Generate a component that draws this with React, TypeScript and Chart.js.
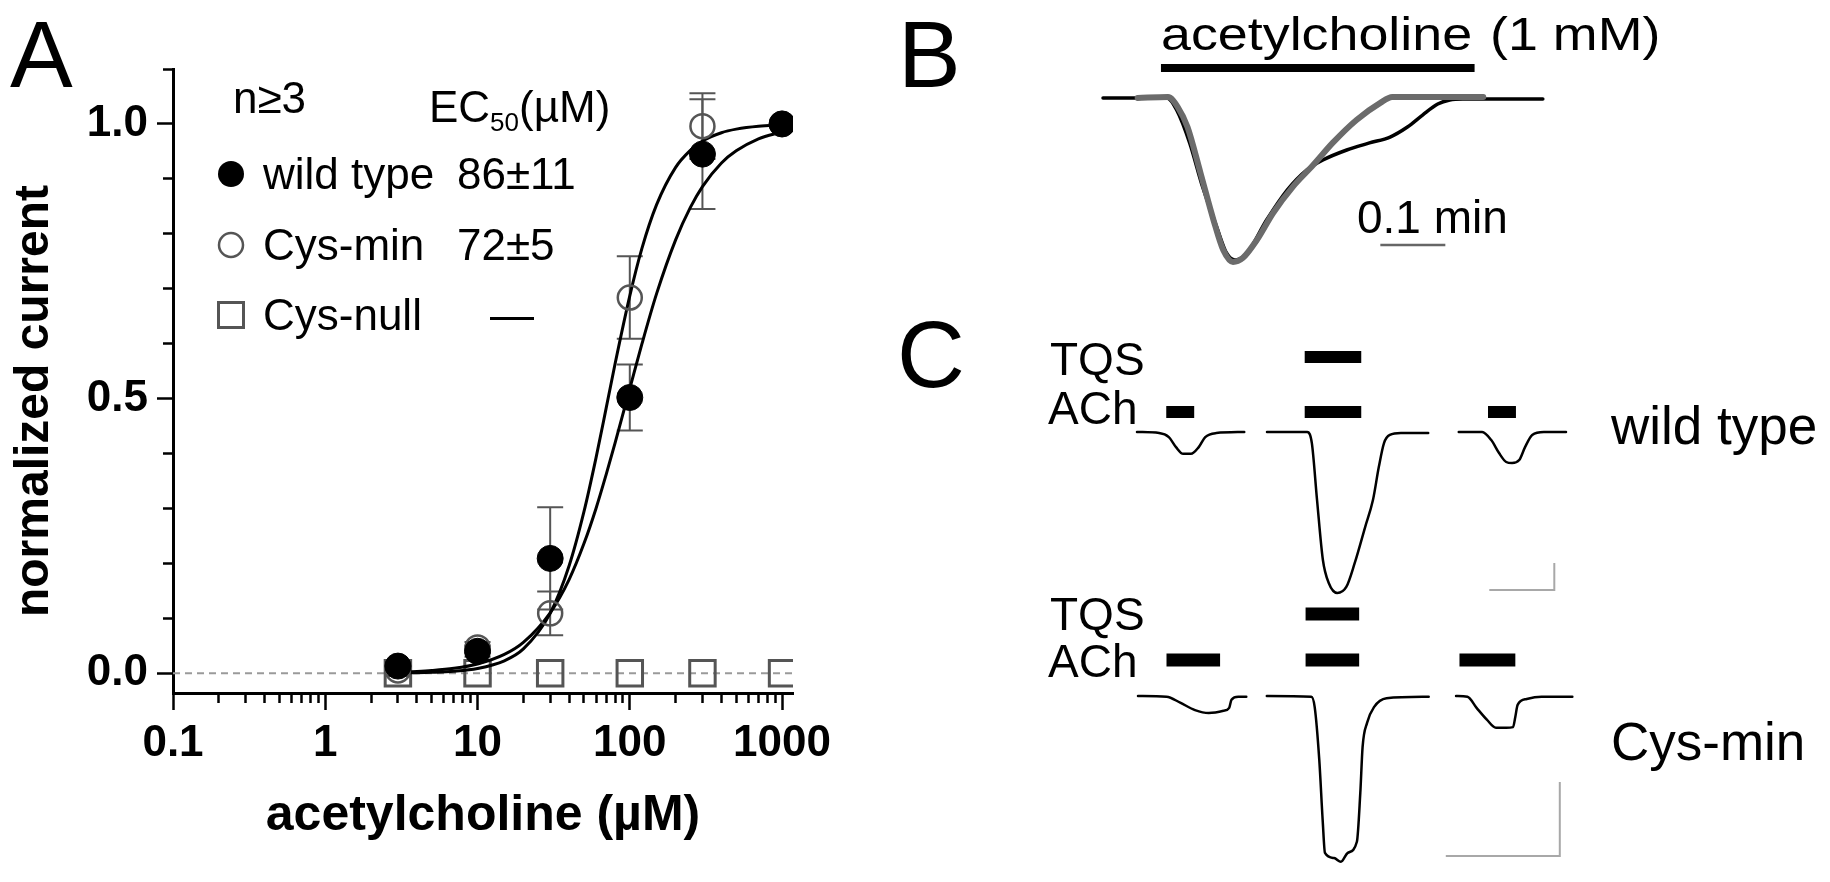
import React, { useEffect, useRef } from "react";
import { Chart, registerables } from "chart.js";
Chart.register(...registerables);

const FONT = '"Liberation Sans", Arial, Helvetica, sans-serif';

// ---------------- Panel A: concentration-response ----------------
const concentrations = [3, 10, 30, 100, 300, 1000];
const wildTypeMean = [0.013, 0.04, 0.209, 0.502, 0.945, 1.0];
const wildTypeSem = [0.01, 0.01, 0.093, 0.06, 0.1, 0.0];
const cysMinMean = [0.005, 0.047, 0.109, 0.684, 0.996, 1.0];
const cysMinSem = [0.01, 0.01, 0.04, 0.075, 0.06, 0.0];
const cysNullMean = [0, 0, 0, 0, 0, 0];
const fitConc = [3, 4, 5, 7, 10, 15, 20, 30, 40, 50, 60, 70, 80, 100, 120, 150, 200, 250, 300, 400, 500, 700, 1000];
const wildTypeFit = [0.002, 0.0033, 0.0049, 0.0089, 0.0168, 0.0342, 0.0561, 0.11, 0.171, 0.236, 0.3, 0.362, 0.419, 0.518, 0.599, 0.691, 0.789, 0.848, 0.886, 0.929, 0.951, 0.973, 0.9855];
const cysMinFit = [0.0005, 0.001, 0.0017, 0.0037, 0.0087, 0.0226, 0.0442, 0.109, 0.196, 0.294, 0.392, 0.483, 0.563, 0.687, 0.773, 0.853, 0.921, 0.952, 0.969, 0.984, 0.9905, 0.9958, 0.998];
const zeroLineConc = [0.1, 1180];
const zeroLineValue = [0, 0];
const xTickValues = [0.1, 0.2, 0.3, 0.4, 0.5, 0.6, 0.7, 0.8, 0.9, 1, 2, 3, 4, 5, 6, 7, 8, 9, 10, 20, 30, 40, 50, 60, 70, 80, 90, 100, 200, 300, 400, 500, 600, 700, 800, 900, 1000];
const xMajorTicks = [0.1, 1, 10, 100, 1000];
const xTickLabels = ["0.1", "1", "10", "100", "1000"];
const yTickValues = [0, 0.1, 0.2, 0.3, 0.4, 0.5, 0.6, 0.7, 0.8, 0.9, 1.0, 1.1];
const yMajorTicks = [0, 0.5, 1.0];
const yTickLabels = ["0.0", "0.5", "1.0"];
const legendNames = ["wild type", "Cys-min", "Cys-null"];
const legendEC50 = ["86±11", "72±5", "—"];

// ---------------- Panel B: ACh 1 mM traces (s, normalized) ----------------
const bTimeWildType = [0, 5.9, 6.8, 8.0, 9.2, 10.5, 11.4, 12.2, 13.3, 15.1, 17.0, 18.8, 20.3, 22.5, 24.6, 26.5, 28.1, 29.5, 30.9, 32.0, 33.2, 40.6];
const bCurrentWildType = [0, 0, -0.073, -0.274, -0.543, -0.787, -0.945, -0.988, -0.945, -0.744, -0.561, -0.439, -0.378, -0.317, -0.274, -0.238, -0.177, -0.104, -0.037, -0.012, -0.006, -0.006];
const bTimeCysMin = [3.2, 6.0, 6.9, 7.8, 9.0, 10.2, 11.1, 12.0, 12.9, 14.2, 15.7, 17.5, 19.4, 21.2, 23.4, 25.6, 26.7, 28.6, 31.8, 35.1];
const bCurrentCysMin = [0, 0.006, -0.055, -0.177, -0.457, -0.744, -0.927, -1.0, -0.976, -0.866, -0.701, -0.543, -0.409, -0.274, -0.134, -0.03, 0.006, 0.006, 0.006, 0.006];
const bAchApplication = [5.35, 34.3];
const bScaleBarTime = [25.6, 31.6]; // 0.1 min

// ---------------- Panel C: TQS potentiation (s, µA) ----------------
const cWtTime1 = [0, 3.4, 4.9, 6.0, 7.1, 8.3, 9.5, 10.5, 12.2, 16.5];
const cWtCur1 = [0, -0.04, -0.19, -0.56, -0.81, -0.81, -0.56, -0.19, -0.04, 0];
const cWtTime2 = [20.0, 26.2, 26.9, 27.7, 28.6, 29.5, 30.8, 32.2, 33.5, 35.1, 36.3, 37.2, 38.0, 38.9, 40.6, 44.8];
const cWtCur2 = [0, 0, -0.41, -2.52, -4.74, -5.59, -5.96, -5.74, -4.85, -3.52, -2.52, -1.3, -0.41, -0.11, -0.04, -0.04];
const cWtTime3 = [49.5, 53.1, 54.5, 55.7, 56.8, 57.7, 58.8, 59.7, 60.8, 62.6, 66.0];
const cWtCur3 = [0, 0, -0.3, -0.78, -1.11, -1.15, -1.04, -0.56, -0.11, 0, 0];
const cWtAch = [[4.5, 8.8], [25.8, 34.5], [54.0, 58.3]];
const cWtTqs = [[25.8, 34.5]];
const cWtScaleTime = [54.2, 64.2];
const cWtScaleCurrent = [-5.85, -4.85];

const cCysTime1 = [0, 2.5, 3.7, 5.0, 6.2, 7.5, 8.0, 8.2, 8.8, 9.5];
const cCysCur1 = [0, -0.01, -0.09, -0.19, -0.23, -0.2, -0.16, -0.05, -0.01, -0.01];
const cCysTime2 = [11.3, 15.2, 15.5, 15.9, 16.2, 16.4, 17.2, 17.8, 18.4, 19.2, 19.5, 19.7, 20.1, 20.7, 21.8, 25.5];
const cCysCur2 = [0, -0.01, -0.15, -0.86, -1.68, -2.12, -2.19, -2.24, -2.12, -1.97, -1.31, -0.69, -0.36, -0.15, -0.03, -0.01];
const cCysTime3 = [27.9, 28.9, 29.7, 30.6, 31.4, 32.3, 32.9, 33.1, 33.3, 34.1, 35.4, 38.1];
const cCysCur3 = [0, -0.01, -0.16, -0.32, -0.43, -0.43, -0.42, -0.28, -0.12, -0.04, -0.01, -0.01];
const cCysAch = [[2.5, 7.2], [14.7, 19.4], [28.2, 33.1]];
const cCysTqs = [[14.7, 19.4]];
const cCysScaleTime = [27.0, 37.0];
const cCysScaleCurrent = [-2.162, -1.162];

type Pt = { x: number; y: number };
const zip = (xs: number[], ys: number[]): Pt[] => xs.map((x, i) => ({ x, y: ys[i] }));
const near = (a: number, b: number) => Math.abs(a - b) <= 1e-6 * Math.max(1, Math.abs(b));

function drawText(ctx: CanvasRenderingContext2D, s: string, x: number, y: number, size: number, weight = "normal", sx = 1) {
  ctx.save();
  ctx.font = `${weight} ${size}px ${FONT}`;
  ctx.fillStyle = "#000";
  ctx.textAlign = "left";
  ctx.textBaseline = "alphabetic";
  ctx.translate(x, y);
  ctx.scale(sx, 1);
  ctx.fillText(s, 0, 0);
  const w = ctx.measureText(s).width * sx;
  ctx.restore();
  return w;
}

function configA(): any {
  const errorAndLegend = {
    id: "errorAndLegend",
    beforeDatasetsDraw(chart: any) {
      const { ctx } = chart;
      const xs = chart.scales.x;
      const ys = chart.scales.y;
      ctx.save();
      ctx.strokeStyle = "#555";
      ctx.lineWidth = 2;
      const draw = (means: number[], errs: number[]) =>
        means.forEach((m, i) => {
          if (!errs[i]) return;
          const px = xs.getPixelForValue(concentrations[i]);
          const t = ys.getPixelForValue(m + errs[i]);
          const b = ys.getPixelForValue(m - errs[i]);
          ctx.beginPath();
          ctx.moveTo(px, t); ctx.lineTo(px, b);
          ctx.moveTo(px - 13, t); ctx.lineTo(px + 13, t);
          ctx.moveTo(px - 13, b); ctx.lineTo(px + 13, b);
          ctx.stroke();
        });
      draw(wildTypeMean, wildTypeSem);
      draw(cysMinMean, cysMinSem);
      ctx.restore();
    },
    afterDraw(chart: any) {
      const { ctx } = chart;
      drawText(ctx, "A", 10, 87, 94);
      drawText(ctx, "n≥3", 233, 113, 44);
      let x = 429;
      x += drawText(ctx, "EC", x, 122, 44);
      x += drawText(ctx, "50", x, 131, 26);
      drawText(ctx, "(µM)", x, 122, 44);
      const baselines = [189, 260, 330];
      legendNames.forEach((n, i) => {
        drawText(ctx, n, 263, baselines[i], 44);
        drawText(ctx, legendEC50[i], i === 2 ? 490 : 457, baselines[i], 44);
      });
      ctx.save();
      ctx.beginPath();
      ctx.arc(231, baselines[0] - 15, 13, 0, Math.PI * 2);
      ctx.fillStyle = "#000";
      ctx.fill();
      ctx.beginPath();
      ctx.arc(231, baselines[1] - 15, 12, 0, Math.PI * 2);
      ctx.strokeStyle = "#555";
      ctx.lineWidth = 2.5;
      ctx.stroke();
      ctx.lineWidth = 3;
      ctx.strokeRect(231 - 12.5, baselines[2] - 15 - 12.5, 25, 25);
      ctx.restore();
    },
  };
  return {
    type: "scatter",
    data: {
      datasets: [
        { label: "wild type", data: zip(concentrations, wildTypeMean), pointRadius: 13, pointBackgroundColor: "#000", pointBorderColor: "#000", pointBorderWidth: 1, showLine: false, order: 0 },
        { label: "Cys-min", data: zip(concentrations, cysMinMean), pointRadius: 12, pointBackgroundColor: "rgba(0,0,0,0)", pointBorderColor: "#555", pointBorderWidth: 2.5, showLine: false, order: 1 },
        { label: "wild type fit", data: zip(fitConc, wildTypeFit), showLine: true, pointRadius: 0, borderColor: "#000", borderWidth: 3, cubicInterpolationMode: "monotone", order: 2 },
        { label: "Cys-min fit", data: zip(fitConc, cysMinFit), showLine: true, pointRadius: 0, borderColor: "#000", borderWidth: 3, cubicInterpolationMode: "monotone", order: 2 },
        { label: "Cys-null", data: zip(concentrations, cysNullMean), pointStyle: "rect", pointRadius: 18, pointBackgroundColor: "rgba(0,0,0,0)", pointBorderColor: "#555", pointBorderWidth: 3, showLine: false, order: 3 },
        { label: "zero", data: zip(zeroLineConc, zeroLineValue), showLine: true, pointRadius: 0, borderColor: "#9a9a9a", borderWidth: 2, borderDash: [7, 5], order: 4 },
      ],
    },
    options: {
      responsive: false,
      animation: false,
      events: [],
      layout: { padding: { left: 0, top: 69, right: 87, bottom: 0 } },
      plugins: { legend: { display: false }, tooltip: { enabled: false } },
      scales: {
        x: {
          type: "logarithmic",
          position: "bottom",
          min: 0.1,
          max: 1180,
          afterFit: (s: any) => { s.height = 189; },
          afterBuildTicks: (s: any) => { s.ticks = xTickValues.map((v) => ({ value: v })); },
          ticks: {
            autoSkip: false,
            maxRotation: 0,
            padding: 7,
            color: "#000",
            font: { family: FONT, size: 44, weight: "bold" },
            callback: (v: number) => {
              const i = xMajorTicks.findIndex((m) => near(v, m));
              return i >= 0 ? xTickLabels[i] : "";
            },
          },
          grid: {
            drawOnChartArea: false,
            drawTicks: true,
            tickLength: 17,
            tickWidth: 2.5,
            tickColor: "#000",
            tickBorderDash: (c: any) => (xMajorTicks.some((m) => near(c.tick.value, m)) ? [] : [8, 60]),
          },
          border: { display: true, width: 3, color: "#000" },
          title: { display: true, text: "acetylcholine (µM)", color: "#000", font: { family: FONT, size: 50, weight: "bold" }, padding: { top: 0, bottom: 36 } },
        },
        y: {
          type: "linear",
          position: "left",
          min: -0.036,
          max: 1.1,
          afterFit: (s: any) => { s.width = 173; },
          afterBuildTicks: (s: any) => { s.ticks = yTickValues.map((v) => ({ value: v })); },
          ticks: {
            padding: 9,
            color: "#000",
            font: { family: FONT, size: 44, weight: "bold" },
            callback: (v: number) => {
              const i = yMajorTicks.findIndex((m) => near(v, m));
              return i >= 0 ? yTickLabels[i] : "";
            },
          },
          grid: {
            drawOnChartArea: false,
            drawTicks: true,
            tickLength: 16,
            tickWidth: 2.5,
            tickColor: "#000",
            tickBorderDash: (c: any) => (yMajorTicks.some((m) => near(c.tick.value, m)) ? [] : [0, 6, 10, 60]),
          },
          border: { display: true, width: 3, color: "#000" },
          title: { display: true, text: "normalized current   ", color: "#000", font: { family: FONT, size: 48, weight: "bold" }, padding: { top: 6, bottom: 0 } },
        },
      },
    },
    plugins: [errorAndLegend],
  };
}

function traceDs(xs: number[], ys: number[], color: string, width: number, order = 1) {
  return { data: zip(xs, ys), showLine: true, borderColor: color, borderWidth: width, pointRadius: 0, cubicInterpolationMode: "monotone", borderCapStyle: "round", borderJoinStyle: "round", order };
}
function barDs(range: number[], level: number, width: number) {
  return { data: [{ x: range[0], y: level }, { x: range[1], y: level }], showLine: true, borderColor: "#000", borderWidth: width, borderCapStyle: "butt", pointRadius: 0, order: 0 };
}
function scaleDs(ts: number[], is: number[], color: string, width: number) {
  return { data: [{ x: ts[0], y: is[0] }, { x: ts[1], y: is[0] }, { x: ts[1], y: is[1] }], showLine: true, borderColor: color, borderWidth: width, pointRadius: 0, tension: 0, borderJoinStyle: "miter", order: 0 };
}

function traceConfig(datasets: any[], box: { left: number; top: number }, range: number[], draw: (ctx: CanvasRenderingContext2D) => void): any {
  return {
    type: "scatter",
    data: { datasets },
    options: {
      responsive: false,
      animation: false,
      events: [],
      layout: { padding: 0 },
      plugins: { legend: { display: false }, tooltip: { enabled: false } },
      scales: {
        x: { type: "linear", display: false, min: range[0], max: range[1] },
        y: { type: "linear", display: false, min: range[2], max: range[3] },
      },
    },
    plugins: [
      {
        id: "labels",
        afterDraw(chart: any) {
          const ctx = chart.ctx as CanvasRenderingContext2D;
          ctx.save();
          ctx.translate(-box.left, -box.top);
          draw(ctx);
          ctx.restore();
        },
      },
    ],
  };
}

const BOX_B = { left: 880, top: 0, width: 950, height: 300 };
const BOX_C1 = { left: 880, top: 300, width: 950, height: 300 };
const BOX_C2 = { left: 880, top: 580, width: 950, height: 302 };

function configB() {
  return traceConfig(
    [
      traceDs(bTimeCysMin, bCurrentCysMin, "#6b6b6b", 6, 0),
      traceDs(bTimeWildType, bCurrentWildType, "#000", 3.5, 1),
      barDs(bAchApplication, 0.183, 8),
      scaleDs([bScaleBarTime[0], bScaleBarTime[1]], [-0.896, -0.896], "#666", 2.5),
    ],
    BOX_B,
    [-20.585, 67.108, -1.2317, 0.5976],
    (ctx) => {
      drawText(ctx, "B", 898, 87, 94);
      drawText(ctx, "acetylcholine", 1161, 50, 46, "normal", 1.17);
      drawText(ctx, "(1 mM)", 1490, 50, 46, "normal", 1.17);
      drawText(ctx, "0.1 min", 1357, 233, 46);
    }
  );
}

function configC1() {
  return traceConfig(
    [
      traceDs(cWtTime1, cWtCur1, "#000", 2.5),
      traceDs(cWtTime2, cWtCur2, "#000", 2.5),
      traceDs(cWtTime3, cWtCur3, "#000", 2.5),
      ...cWtAch.map((r) => barDs(r, 0.74, 12)),
      ...cWtTqs.map((r) => barDs(r, 2.78, 12)),
      scaleDs(cWtScaleTime, cWtScaleCurrent, "#a8a8a8", 2),
    ],
    BOX_C1,
    [-39.538, 106.615, -6.2222, 4.8889],
    (ctx) => {
      drawText(ctx, "C", 897, 387, 94);
      drawText(ctx, "TQS", 1050, 375, 46);
      drawText(ctx, "ACh", 1048, 424, 46);
      drawText(ctx, "wild type", 1611, 444, 53);
    }
  );
}

function configC2() {
  return traceConfig(
    [
      traceDs(cCysTime1, cCysCur1, "#000", 2.5),
      traceDs(cCysTime2, cCysCur2, "#000", 2.5),
      traceDs(cCysTime3, cCysCur3, "#000", 2.5),
      ...cCysAch.map((r) => barDs(r, 0.486, 13)),
      ...cCysTqs.map((r) => barDs(r, 1.108, 13)),
      scaleDs(cCysScaleTime, cCysScaleCurrent, "#a8a8a8", 2),
    ],
    BOX_C2,
    [-22.632, 60.702, -2.5135, 1.5676],
    (ctx) => {
      drawText(ctx, "TQS", 1050, 630, 46);
      drawText(ctx, "ACh", 1048, 677, 46);
      drawText(ctx, "Cys-min", 1611, 760, 53);
    }
  );
}

export default function App() {
  const refA = useRef<HTMLCanvasElement>(null);
  const refB = useRef<HTMLCanvasElement>(null);
  const refC1 = useRef<HTMLCanvasElement>(null);
  const refC2 = useRef<HTMLCanvasElement>(null);

  useEffect(() => {
    document.body.style.margin = "0";
    const charts = [
      new Chart(refA.current as HTMLCanvasElement, configA()),
      new Chart(refB.current as HTMLCanvasElement, configB()),
      new Chart(refC1.current as HTMLCanvasElement, configC1()),
      new Chart(refC2.current as HTMLCanvasElement, configC2()),
    ];
    return () => charts.forEach((c) => c.destroy());
  }, []);

  const abs = (b: { left: number; top: number }) => ({ position: "absolute" as const, left: b.left, top: b.top });
  return (
    <div style={{ position: "relative", width: 1830, height: 882, background: "#fff", overflow: "hidden" }}>
      <canvas ref={refA} width={880} height={882} style={abs({ left: 0, top: 0 })} />
      <canvas ref={refB} width={BOX_B.width} height={BOX_B.height} style={abs(BOX_B)} />
      <canvas ref={refC1} width={BOX_C1.width} height={BOX_C1.height} style={abs(BOX_C1)} />
      <canvas ref={refC2} width={BOX_C2.width} height={BOX_C2.height} style={abs(BOX_C2)} />
    </div>
  );
}
